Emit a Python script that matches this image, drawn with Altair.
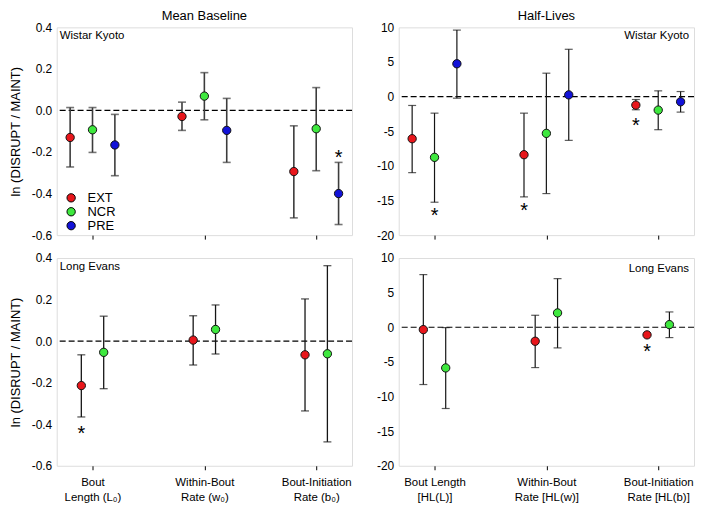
import json
import altair as alt
import pandas as pd

FONT = "Liberation Sans"

# ---------------- data ----------------
categories = ["Bout Length", "Within-Bout Rate", "Bout-Initiation Rate"]
series_names = ["EXT", "NCR", "PRE"]
series_colors = ["#e8161b", "#3ee83e", "#1212d8"]

mb_tick_labels = [["Bout", "Length (L\u2080)"], ["Within-Bout", "Rate (w\u2080)"], ["Bout-Initiation", "Rate (b\u2080)"]]
hl_tick_labels = [["Bout Length", "[HL(L)]"], ["Within-Bout", "Rate [HL(w)]"], ["Bout-Initiation", "Rate [HL(b)]"]]

mb_yticks = [-0.6, -0.4, -0.2, 0.0, 0.2, 0.4]
hl_yticks = [-20, -15, -10, -5, 0, 5, 10]

# Wistar Kyoto: EXT, NCR, PRE within each category
wky_series = ["EXT", "NCR", "PRE"] * 3
wky_cat = ["Bout Length"] * 3 + ["Within-Bout Rate"] * 3 + ["Bout-Initiation Rate"] * 3
mb_wky_mean = [-0.130, -0.093, -0.166, -0.029, 0.069, -0.096, -0.294, -0.088, -0.400]
mb_wky_hi = [0.014, 0.014, -0.019, 0.040, 0.182, 0.058, -0.074, 0.110, -0.250]
mb_wky_lo = [-0.272, -0.202, -0.314, -0.096, -0.045, -0.250, -0.517, -0.290, -0.549]
hl_wky_mean = [-6.08, -8.77, 4.74, -8.39, -5.31, 0.25, -1.23, -1.95, -0.75]
hl_wky_hi = [-1.28, -2.39, 9.6, -2.39, 3.38, 6.83, -0.42, 0.83, 0.73]
hl_wky_lo = [-10.98, -15.25, -0.23, -14.48, -14.0, -6.32, -1.9, -4.78, -2.24]

# Long Evans: EXT, NCR within each category
le_series = ["EXT", "NCR"] * 3
le_cat = ["Bout Length"] * 2 + ["Within-Bout Rate"] * 2 + ["Bout-Initiation Rate"] * 2
mb_le_mean = [-0.214, -0.054, 0.005, 0.056, -0.066, -0.061]
mb_le_hi = [-0.066, 0.120, 0.122, 0.174, 0.203, 0.363]
mb_le_lo = [-0.365, -0.229, -0.115, -0.062, -0.336, -0.485]
hl_le_mean = [-0.34, -5.87, -2.02, 2.07, -1.10, 0.38]
hl_le_hi = [7.6, -0.05, 1.73, 7.02, None, 2.21]
hl_le_lo = [-8.27, -11.73, -5.82, -2.98, None, -1.49]

# significance markers (category, series, y)
mb_wky_star_cat = ["Bout-Initiation Rate"]
mb_wky_star_series = ["PRE"]
mb_wky_star_y = [-0.205]
hl_wky_star_cat = ["Bout Length", "Within-Bout Rate", "Bout-Initiation Rate"]
hl_wky_star_series = ["NCR", "EXT", "EXT"]
hl_wky_star_y = [-16.5, -15.8, -3.6]
mb_le_star_cat = ["Bout Length"]
mb_le_star_series = ["EXT"]
mb_le_star_y = [-0.421]
hl_le_star_cat = ["Bout-Initiation Rate"]
hl_le_star_series = ["EXT"]
hl_le_star_y = [-2.88]

# ---------------- layout (dodge offsets, sizes) ----------------
WKY_DODGE = {"EXT": -0.2, "NCR": 0.0, "PRE": 0.2}
LE_DODGE = {"EXT": -0.1, "NCR": 0.1}
PW, PH = 297, 209


def frame(cat, ser, dodge, **cols):
    df = pd.DataFrame({"cat": cat, "series": ser, **cols})
    df["xpos"] = [categories.index(c) + 1 + dodge[s] for c, s in zip(df["cat"], df["series"])]
    return df


def panel(df, stars, ydomain, yvalues, yfmt, title, strain, strain_right, strain_y,
          ytitle, tick_labels, legend, bar_color, bar_width):
    xscale = alt.Scale(domain=[0.68, 3.32], nice=False, zero=False)
    if tick_labels is None:
        xaxis = alt.Axis(values=[1, 2, 3], labels=False, ticks=True, tickSize=4, tickColor="black",
                         domain=False, grid=False, title=None)
    else:
        expr = "datum.value == 1 ? %s : datum.value == 2 ? %s : %s" % tuple(
            json.dumps(t, ensure_ascii=False) for t in tick_labels)
        xaxis = alt.Axis(values=[1, 2, 3], labelExpr=expr, ticks=True, tickSize=4, tickColor="black",
                         domain=False, grid=False, title=None, labelFont=FONT, labelFontSize=11.5,
                         labelColor="black", labelPadding=7, labelLineHeight=15, labelBaseline="top",
                         labelOverlap=False)
    yaxis_kw = dict(values=yvalues, format=yfmt, labelExpr="replace(datum.label, '\u2212', '-')",
                    ticks=False, domain=False, grid=False, labelFont=FONT, labelFontSize=12,
                    labelColor="black", labelPadding=5, labelOverlap=False, tickCount=len(yvalues))
    if ytitle:
        yaxis = alt.Axis(title=ytitle, titleFont=FONT, titleFontSize=13, titleFontWeight="normal",
                         titleColor="black", titlePadding=9, **yaxis_kw)
    else:
        yaxis = alt.Axis(title=None, **yaxis_kw)
    yscale = alt.Scale(domain=ydomain, nice=False, zero=False)
    x_enc = alt.X("xpos:Q", scale=xscale, axis=xaxis)

    def Y(field):
        return alt.Y(field, scale=yscale, axis=yaxis)

    zero = alt.Chart(pd.DataFrame({"z": [0]})).mark_rule(
        color="black", strokeDash=[6, 3], strokeWidth=1.2
    ).encode(y=Y("z:Q"))

    bars_df = df.dropna(subset=["lo", "hi"])
    base = alt.Chart(bars_df)
    rules = base.mark_rule(color=bar_color, strokeWidth=bar_width).encode(
        x=x_enc, y=Y("lo:Q"), y2="hi:Q")
    cap_lo = base.mark_tick(orient="horizontal", color=bar_color, size=8, thickness=bar_width).encode(
        x=x_enc, y=Y("lo:Q"))
    cap_hi = base.mark_tick(orient="horizontal", color=bar_color, size=8, thickness=bar_width).encode(
        x=x_enc, y=Y("hi:Q"))

    if legend:
        leg = alt.Legend(title=None, orient="none", legendX=8, legendY=165, symbolType="circle",
                         symbolSize=70, symbolStrokeColor="black", symbolStrokeWidth=1,
                         symbolOpacity=1, labelFont=FONT, labelFontSize=13, labelColor="black",
                         labelOffset=10, rowPadding=0, padding=0)
    else:
        leg = None
    points = alt.Chart(df).mark_circle(size=70, opacity=1, stroke="#111111", strokeWidth=1).encode(
        x=x_enc, y=Y("mean:Q"),
        color=alt.Color("series:N", scale=alt.Scale(domain=series_names, range=series_colors), legend=leg))

    star = alt.Chart(stars).mark_text(text="*", font=FONT, fontSize=20, baseline="middle", dy=5,
                                      color="black").encode(x=x_enc, y=Y("y:Q"))

    label = alt.Chart(pd.DataFrame({"t": [strain]})).mark_text(
        font=FONT, fontSize=11.5, color="black", baseline="middle",
        align="right" if strain_right else "left"
    ).encode(text="t:N", x=alt.value(PW - 5 if strain_right else 3), y=alt.value(strain_y))

    layers = alt.layer(zero, rules, cap_lo, cap_hi, points, star, label).properties(width=PW, height=PH)
    if title:
        layers = layers.properties(title=alt.TitleParams(title, font=FONT, fontSize=13, fontWeight="normal",
                                                         color="black", offset=-2))
    return layers


mb_wky = frame(wky_cat, wky_series, WKY_DODGE, mean=mb_wky_mean, lo=mb_wky_lo, hi=mb_wky_hi)
hl_wky = frame(wky_cat, wky_series, WKY_DODGE, mean=hl_wky_mean, lo=hl_wky_lo, hi=hl_wky_hi)
mb_le = frame(le_cat, le_series, LE_DODGE, mean=mb_le_mean, lo=mb_le_lo, hi=mb_le_hi)
hl_le = frame(le_cat, le_series, LE_DODGE, mean=hl_le_mean, lo=hl_le_lo, hi=hl_le_hi)

s_mb_wky = frame(mb_wky_star_cat, mb_wky_star_series, WKY_DODGE, y=mb_wky_star_y)
s_hl_wky = frame(hl_wky_star_cat, hl_wky_star_series, WKY_DODGE, y=hl_wky_star_y)
s_mb_le = frame(mb_le_star_cat, mb_le_star_series, LE_DODGE, y=mb_le_star_y)
s_hl_le = frame(hl_le_star_cat, hl_le_star_series, LE_DODGE, y=hl_le_star_y)

YT = "ln (DISRUPT / MAINT)"
tl = panel(mb_wky, s_mb_wky, [-0.6, 0.4], mb_yticks, ".1f", "Mean Baseline", "Wistar Kyoto", False, 9,
           YT, None, True, "#3c3c3c", 1.6)
tr = panel(hl_wky, s_hl_wky, [-20, 10], hl_yticks, "d", "Half-Lives", "Wistar Kyoto", True, 9,
           None, None, False, "#151515", 1.2)
bl = panel(mb_le, s_mb_le, [-0.6, 0.4], mb_yticks, ".1f", None, "Long Evans", False, 9,
           YT, mb_tick_labels, False, "#151515", 1.3)
br = panel(hl_le, s_hl_le, [-20, 10], hl_yticks, "d", None, "Long Evans", True, 11,
           None, hl_tick_labels, False, "#151515", 1.2)

top = alt.hconcat(tl, tr, spacing=22).resolve_scale(color="independent").resolve_legend(color="independent")
bottom = alt.hconcat(bl, br, spacing=22).resolve_scale(color="independent").resolve_legend(color="independent")
chart = (
    alt.vconcat(top, bottom, spacing=9)
    .resolve_scale(color="independent")
    .resolve_legend(color="independent")
    .properties(padding={"left": 0, "top": 0, "right": 0, "bottom": 0})
    .configure_view(stroke="black", strokeWidth=1)
    .configure(font=FONT, background="white")
)

chart.save("out.html", embed_options={"renderer": "svg", "actions": False})
